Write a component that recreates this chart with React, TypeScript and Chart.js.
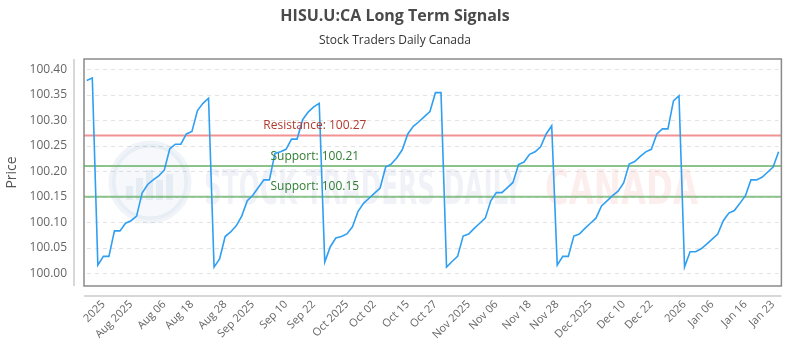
import React, { useEffect, useRef } from "react";
import { Chart, registerables } from "chart.js";

Chart.register(...registerables);

const prices: number[] = [
  100.378, 100.383, 100.016, 100.033, 100.033, 100.083, 100.083, 100.098, 100.103, 100.112,
  100.157, 100.174, 100.183, 100.191, 100.202, 100.244, 100.253, 100.253, 100.273, 100.278,
  100.319, 100.333, 100.343, 100.012, 100.028, 100.072, 100.081, 100.093, 100.112, 100.142,
  100.153, 100.168, 100.183, 100.183, 100.235, 100.238, 100.243, 100.263, 100.263, 100.301,
  100.316, 100.326, 100.333, 100.022, 100.052, 100.069, 100.072, 100.077, 100.091, 100.121,
  100.137, 100.147, 100.157, 100.167, 100.208, 100.214, 100.226, 100.242, 100.273, 100.288,
  100.297, 100.307, 100.317, 100.354, 100.354, 100.012, 100.023, 100.033, 100.073, 100.077,
  100.088, 100.098, 100.108, 100.142, 100.158, 100.158, 100.168, 100.178, 100.213, 100.218,
  100.233, 100.238, 100.248, 100.273, 100.289, 100.016, 100.033, 100.033, 100.073, 100.077,
  100.088, 100.098, 100.108, 100.132, 100.142, 100.152, 100.161, 100.177, 100.214, 100.219,
  100.229, 100.238, 100.243, 100.273, 100.283, 100.283, 100.338, 100.348, 100.012, 100.042,
  100.042, 100.048, 100.057, 100.067, 100.077, 100.103, 100.118, 100.123, 100.137, 100.152,
  100.183, 100.183, 100.188, 100.198, 100.208, 100.238,
];

const tickLabels: string[] = [
  "2025", "Aug 2025", "Aug 06", "Aug 18", "Aug 28", "Sep 2025", "Sep 10", "Sep 22",
  "Oct 2025", "Oct 02", "Oct 15", "Oct 27", "Nov 2025", "Nov 06", "Nov 18", "Nov 28",
  "Dec 2025", "Dec 10", "Dec 22", "2026", "Jan 06", "Jan 16", "Jan 23",
];
const tickIndex: number[] = [
  3, 8, 14, 19, 25, 30, 36, 41, 47, 52, 58, 63, 69, 74, 80, 85, 91, 97, 102, 108, 113, 119, 124,
];

const resistanceLevels: number[] = [100.27];
const supportLevels: number[] = [100.21, 100.15];

const Y_MIN = 99.975;
const Y_MAX = 100.42;

const FONT = "'Open Sans', 'DejaVu Sans', sans-serif";

const frame = {
  id: "frame",
  beforeDatasetsDraw(chart: any) {
    const { ctx, chartArea: a, scales } = chart;
    const y = scales.y;
    ctx.save();
    // dashed grid at y ticks
    ctx.strokeStyle = "#e2e2e2";
    ctx.lineWidth = 1;
    ctx.setLineDash([4, 4]);
    y.ticks.forEach((t: any) => {
      const py = Math.round(y.getPixelForValue(t.value)) + 0.5;
      ctx.beginPath();
      ctx.moveTo(a.left + 3, py);
      ctx.lineTo(a.right - 3, py);
      ctx.stroke();
    });
    ctx.setLineDash([]);
    // watermark
    const cx = a.left + 66, cy = 182;
    ctx.beginPath();
    ctx.arc(cx, cy, 38, 0, Math.PI * 2);
    ctx.fillStyle = "rgba(70,110,170,0.05)";
    ctx.fill();
    ctx.lineWidth = 7;
    ctx.strokeStyle = "rgba(70,110,170,0.08)";
    ctx.stroke();
    ctx.fillStyle = "rgba(70,110,170,0.09)";
    const bars = [14, 22, 30, 20, 26];
    bars.forEach((h, i) => {
      ctx.fillRect(cx - 24 + i * 10, cy + 18 - h, 7, h);
    });
    ctx.font = `bold 48px 'DejaVu Sans Condensed', 'DejaVu Sans', sans-serif`;
    ctx.textBaseline = "alphabetic";
    ctx.textAlign = "left";
    ctx.fillStyle = "rgba(60,95,160,0.08)";
    ctx.fillText("STOCK TRADERS DAILY", 204, 204, 318);
    ctx.fillStyle = "rgba(235,70,70,0.09)";
    ctx.fillText("CANADA", 545, 204, 153);
    // level lines
    ctx.lineWidth = 2;
    resistanceLevels.forEach((v) => {
      const py = y.getPixelForValue(v);
      ctx.strokeStyle = "rgba(240,128,128,0.85)";
      ctx.beginPath();
      ctx.moveTo(a.left, py);
      ctx.lineTo(a.right, py);
      ctx.stroke();
    });
    supportLevels.forEach((v) => {
      const py = y.getPixelForValue(v);
      ctx.strokeStyle = "rgba(110,180,110,0.8)";
      ctx.beginPath();
      ctx.moveTo(a.left, py);
      ctx.lineTo(a.right, py);
      ctx.stroke();
    });
    ctx.restore();
  },
  afterDatasetsDraw(chart: any) {
    const { ctx, chartArea: a, scales } = chart;
    const y = scales.y;
    ctx.save();
    ctx.font = `12px ${FONT}`;
    ctx.textAlign = "center";
    ctx.textBaseline = "middle";
    const lx = a.left + (a.right - a.left) * 0.331;
    resistanceLevels.forEach((v) => {
      ctx.fillStyle = "#b03a2e";
      ctx.fillText(`Resistance: ${v.toFixed(2)}`, lx, y.getPixelForValue(v) - 10);
    });
    supportLevels.forEach((v) => {
      ctx.fillStyle = "#2e7d32";
      ctx.fillText(`Support: ${v.toFixed(2)}`, lx, y.getPixelForValue(v) - 10);
    });
    // plot border
    ctx.strokeStyle = "#8a8a8a";
    ctx.lineWidth = 1.5;
    ctx.strokeRect(a.left, a.top, a.right - a.left, a.bottom - a.top);
    // axis lines
    ctx.strokeStyle = "#cccccc";
    ctx.lineWidth = 1.5;
    ctx.beginPath();
    ctx.moveTo(a.left - 10, a.top);
    ctx.lineTo(a.left - 10, a.bottom);
    ctx.moveTo(a.left, a.bottom + 10);
    ctx.lineTo(a.right, a.bottom + 10);
    ctx.stroke();
    ctx.restore();
  },
};

export default function App() {
  const ref = useRef<HTMLCanvasElement | null>(null);
  useEffect(() => {
    document.body.style.margin = "0";
    const canvas = ref.current;
    if (!canvas) return;
    const labels = prices.map((_, i) => String(i));
    const chart = new Chart(canvas, {
      type: "line",
      data: {
        labels,
        datasets: [
          {
            label: "Price",
            data: prices,
            borderColor: "#2f9ff2",
            borderWidth: 1.6,
            pointRadius: 0,
            tension: 0,
            fill: false,
          },
        ],
      },
      plugins: [frame],
      options: {
        animation: false,
        responsive: false,
        layout: { padding: { left: 0, right: 10, top: 0, bottom: 0 } },
        plugins: {
          legend: { display: false },
          tooltip: { enabled: false },
          title: {
            display: true,
            text: "HISU.U:CA Long Term Signals",
            color: "#4a4a4a",
            font: { family: FONT, size: 16, weight: "bold" },
            padding: { top: 7, bottom: 7.6 },
          },
          subtitle: {
            display: true,
            text: "Stock Traders Daily Canada",
            color: "#333333",
            font: { family: FONT, size: 12 },
            padding: { top: 0, bottom: 10.8 },
          },
        },
        scales: {
          x: {
            type: "category",
            offset: true,
            grid: { display: false, drawTicks: false },
            border: { display: false },
            afterFit: (s: any) => {
              s.height = 64;
            },
            ticks: {
              autoSkip: false,
              maxRotation: 45,
              minRotation: 45,
              padding: 12,
              color: "#666666",
              font: { family: FONT, size: 11 },
              callback: (_v: any, i: number) => {
                const k = tickIndex.indexOf(i);
                return k >= 0 ? tickLabels[k] : "";
              },
            },
          },
          y: {
            min: Y_MIN,
            max: Y_MAX,
            grid: { display: false, drawTicks: false },
            border: { display: false },
            afterFit: (s: any) => {
              s.width = 84;
            },
            title: {
              display: true,
              text: "Price",
              color: "#555555",
              font: { family: FONT, size: 14 },
              padding: { top: 4, bottom: 0 },
            },
            ticks: {
              stepSize: 0.05,
              includeBounds: false,
              padding: 17,
              color: "#666666",
              font: { family: FONT, size: 12 },
              callback: (v: any) => Number(v).toFixed(2),
            },
          },
        },
      },
    });
    return () => chart.destroy();
  }, []);
  return (
    <div style={{ width: 800, height: 350 }}>
      <canvas ref={ref} width={800} height={350} />
    </div>
  );
}
